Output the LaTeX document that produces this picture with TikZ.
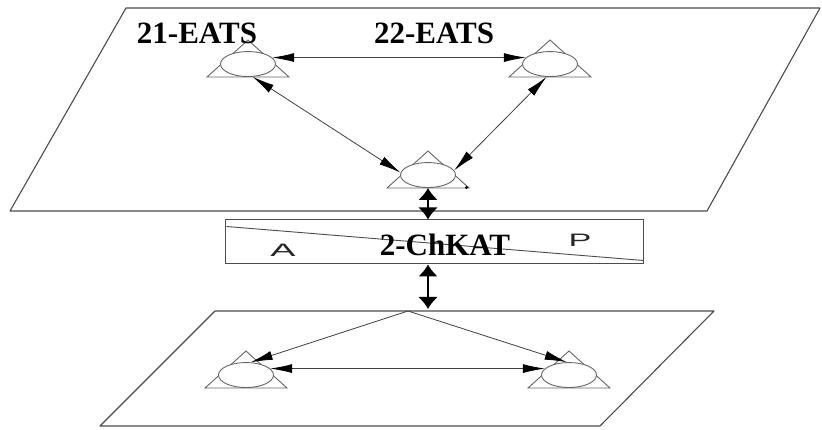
\documentclass[tikz,border=0pt]{standalone}
\usepackage{fontspec}
\setmainfont{Liberation Serif}
\newfontfamily\arialf{Liberation Sans}
\usetikzlibrary{arrows.meta,shapes.geometric,calc}
\newcommand\myelem[3]{%
  \coordinate (#1) at (#2,#3);
  \draw[tri] ($(#1)+(-41,0)$) -- ($(#1)+(0,37)$) -- ($(#1)+(41,0)$) -- cycle;
  \node[ell, anchor=south] (#1e) at (#1) {};
}
\begin{document}
\begin{tikzpicture}[x=1pt,y=1pt,
  plane/.style={draw=black!70, line width=1.1pt, line join=round},
  tri/.style={draw=black!60, line width=0.9pt},
  ell/.style={draw=black!60, line width=0.9pt, ellipse, inner sep=0pt,
              minimum width=55pt, minimum height=25pt, fill=white},
  link/.style={draw=black!75, line width=0.8pt,
               {Latex[length=22pt,width=9pt,color=black]}-{Latex[length=22pt,width=9pt,color=black]}},
  onelink/.style={draw=black!75, line width=0.8pt, -{Latex[length=22pt,width=9pt,color=black]}},
  vlink/.style={draw=black, line width=2pt,
               {Latex[length=12pt,width=20pt]}-{Latex[length=12pt,width=20pt]}},
  lab/.style={font=\fontsize{31}{31}\selectfont\bfseries, inner sep=0pt},
  side/.style={font=\arialf\fontsize{18}{18}\selectfont, inner sep=0pt, text=black!85}
]
\useasboundingbox (0,0) rectangle (822,430);
\fill[white] (0,0) rectangle (822,430);

% planes
\draw[plane] (126,422) -- (820,422) -- (707,219) -- (10,219) -- cycle;
\draw[plane] (215,119) -- (714,119) -- (600,4) -- (100,4) -- cycle;

% elements
\myelem{n21}{248}{353}
\myelem{n22}{550}{353}
\myelem{n2}{428}{242}
\myelem{b1}{246}{42}
\myelem{b2}{569}{42}
\fill[black] (466.5,242.5) circle (1.6);

% labels
\node[lab] (l21) at (197,397) {21-EATS};
\node[lab] (l22) at (434,397) {22-EATS};

% box
\node[draw=black!70, line width=1pt, minimum width=418pt, minimum height=44pt,
      inner sep=0pt] (box) at (434,188) {};
\draw[black!70, line width=0.9pt] ($(box.north west)+(2,-7)$) -- ($(box.south east)+(0,4)$);
\node[side] (la) at (283,180) {\scalebox{2.1}[1]{A}};
\node[side] (lp) at (580,190) {\scalebox{1.9}[1]{P}};
\node[lab] (lck) at (445,185) {2-ChKAT};

% connectors
\draw[link] (n21e.15) -- (n22e.165);
\draw[link] (n21e.-70) -- (n2e.175);
\draw[link] (n22e.-105) -- (n2e.10);
\draw[vlink] (n2e.south) -- (n2e.south |- box.north);
\coordinate (bin) at (428,121);
\coordinate (bap) at (408,119);
\draw[vlink] (n2e.south |- box.south) -- (bin);
\draw[onelink] (bap) -- (b1e.70);
\draw[onelink] (bap) -- (b2e.100);
\draw[link] (b1e.15) -- (b2e.165);
\end{tikzpicture}
\end{document}
